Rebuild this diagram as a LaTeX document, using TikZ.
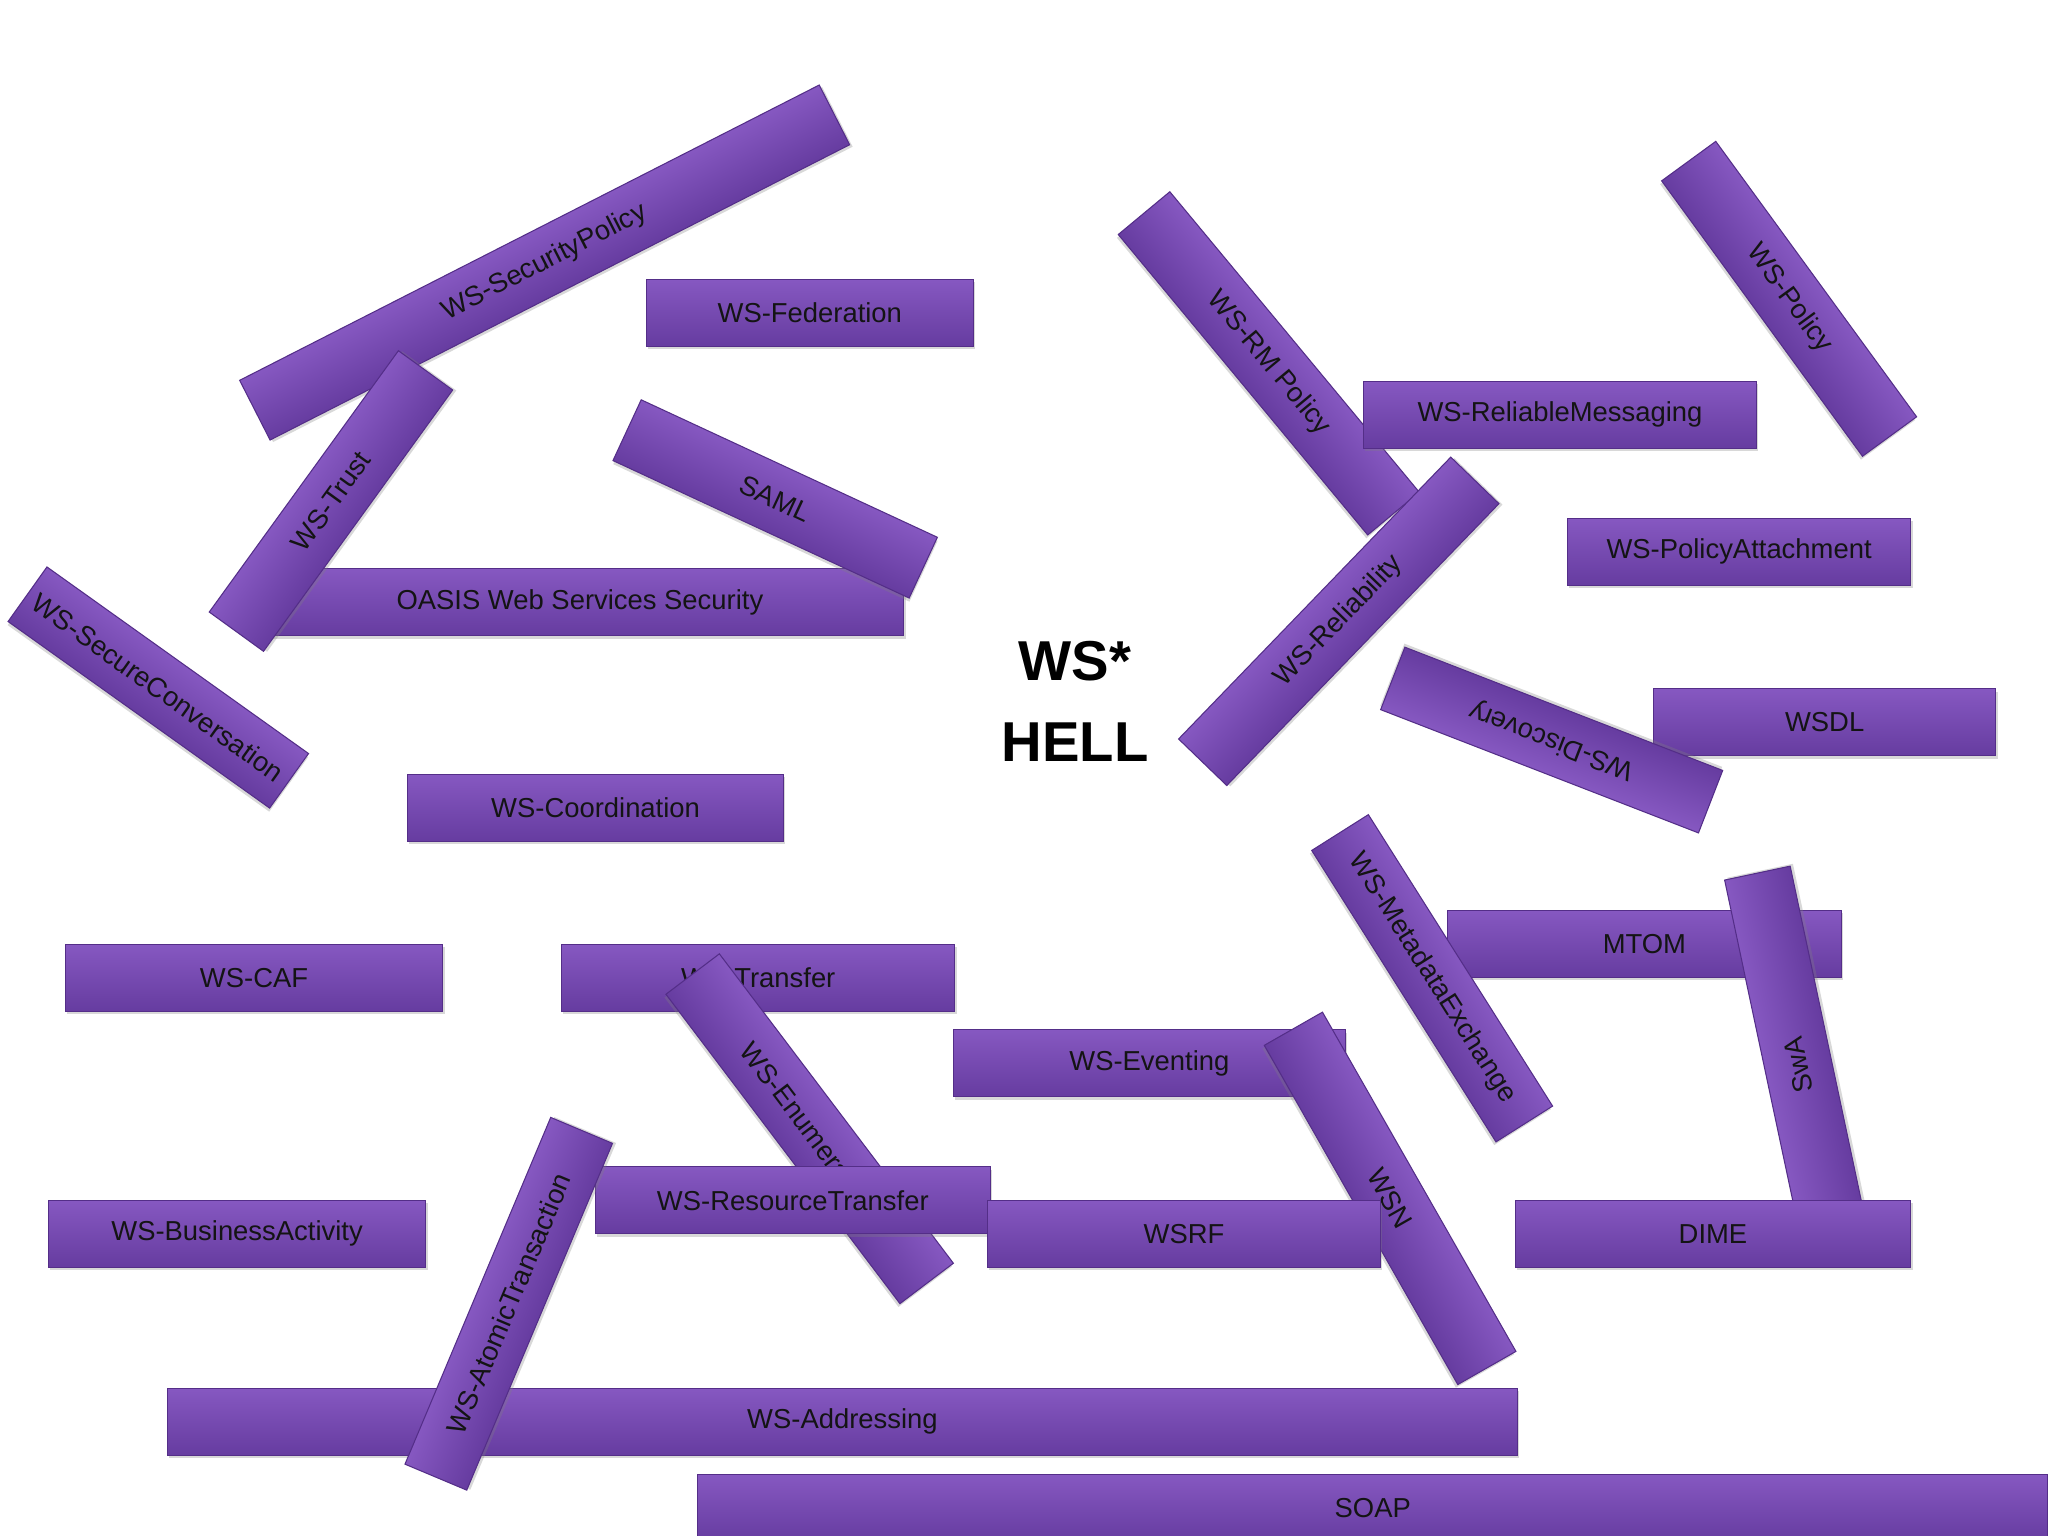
\documentclass[tikz,border=0pt]{standalone}
\usepackage{fontspec}
\setmainfont{Liberation Sans}
\usetikzlibrary{shadows}
\definecolor{wstop}{RGB}{134,88,193}
\definecolor{wsbot}{RGB}{102,60,160}
\definecolor{wsedge}{RGB}{84,46,136}
\tikzset{
  wb/.style={draw=wsedge,line width=.3pt,top color=wstop,bottom color=wsbot,
    minimum height=.67cm,inner sep=0pt,text=black!92,font=\fontsize{7.8}{9}\selectfont,
    drop shadow={shadow xshift=.5pt,shadow yshift=-.9pt,opacity=.3}},
  hl/.style={font=\bfseries\fontsize{16}{23}\selectfont,align=center,inner sep=0pt}
}

\begin{document}
\begin{tikzpicture}[x=0.013061cm,y=-0.013061cm]
    \useasboundingbox[fill=white] (0,0) rectangle (1568,1176);
    % name / centre x / centre y / angle / length / label, drawn bottom layer first
    \foreach \nm/\cx/\cy/\ang/\len/\txt in {
      sp/417/201/27/498/WS-SecurityPolicy,
      fed/620/239.5/0/250/WS-Federation,
      oasis/444/461/0/496/OASIS Web Services Security,
      tr/253.4/383.6/54.1/247/WS-Trust,
      saml/593.5/382/-24.9/250/SAML,
      sc/121.2/526.4/-35.5/246/WS-SecureConversation,
      coord/456/618.5/0/288/WS-Coordination,
      caf/194.5/748.5/0/289/WS-CAF,
      tran/580.5/748.5/0/301/WS-Transfer,
      enum/619.9/864.2/-52.9/297/WS-Enumeration,
      rt/607/919/0/302/WS-ResourceTransfer,
      ba/181.5/944.5/0/289/WS-BusinessActivity,
      addr/645/1088.5/0/1034/WS-Addressing,
      at/389.5/998.2/67.2/288/WS-AtomicTransaction,
      soap/1051/1154.5/0/1034/SOAP,
      ev/880/814/0/300/WS-Eventing,
      wsn/1064.3/917.5/-60.3/299/WSN,
      wsrf/906.5/944.5/0/301/WSRF,
      mtom/1259/722.5/0/302/MTOM,
      mex/1096.5/749/-57.7/264/WS-MetadataExchange,
      swa/1376.7/815.2/102/300/SwA,
      dime/1311.5/944.5/0/303/DIME,
      rmp/971.4/278.2/-50.3/299/WS-RM Policy,
      rm/1194.4/317.6/0/301/WS-ReliableMessaging,
      rel/1025/475.7/46/300/WS-Reliability,
      pol/1369.8/228.8/-53.9/261/WS-Policy,
      pa/1331.5/422.5/0/263/WS-PolicyAttachment,
      wsdl/1397/553/0/262/WSDL,
      disc/1188/566.6/158.8/261/WS-Discovery}
    {
      \begin{scope}[transform canvas={shift={(\cx,\cy)},rotate=\ang}]
        \node[wb,minimum width=\len*0.013061cm] (\nm) at (0,0) {\txt};
      \end{scope}
    }
    \node[hl] (hell) at (823,537) {WS*\\HELL};
\end{tikzpicture}
\end{document}
